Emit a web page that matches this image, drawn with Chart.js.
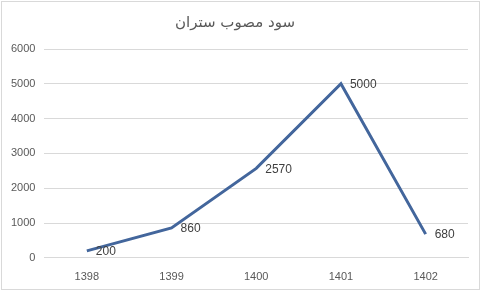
<!DOCTYPE html>
<html>
<head>
<meta charset="utf-8">
<script src="https://cdn.jsdelivr.net/npm/chart.js@4"></script>
<style>
  html, body { margin: 0; padding: 0; background: #fff; }
  #wrap { position: absolute; left: 1px; top: 1px; width: 477px; height: 287px; border: 1px solid #d9d9d9; }
</style>
</head>
<body>
<div id="wrap"><canvas id="chart" width="477" height="287"></canvas></div>
<script>
const years = ['1398', '1399', '1400', '1401', '1402'];
const profit = [200, 860, 2570, 5000, 680];
const chartTitle = 'سود مصوب ستران';

// labels to the right of each point
const pointLabels = {
    id: 'pointLabels',
    afterDatasetsDraw(chart) {
        const ctx = chart.ctx;
        const meta = chart.getDatasetMeta(0);
        ctx.save();
        ctx.font = '12px "Liberation Sans", Arial, sans-serif';
        ctx.fillStyle = '#404040';
        ctx.textAlign = 'left';
        ctx.textBaseline = 'middle';
        meta.data.forEach((pt, i) => {
            ctx.fillText(profit[i], pt.x + 9, pt.y + 1);
        });
        ctx.restore();
    }
};

document.addEventListener('DOMContentLoaded', () => {
    const ctx = document.getElementById('chart').getContext('2d');
    new Chart(ctx, {
        type: 'line',
        data: {
            labels: years,
            datasets: [{
                data: profit,
                borderColor: '#43669c',
                borderWidth: 3,
                pointRadius: 0,
                tension: 0,
                fill: false
            }]
        },
        options: {
            responsive: false,
            animation: false,
            layout: { padding: { left: 0, right: 11, top: 6, bottom: 0 } },
            plugins: {
                legend: { display: false },
                tooltip: { enabled: false },
                title: {
                    display: true,
                    text: chartTitle,
                    color: '#595959',
                    font: { family: '"DejaVu Sans", sans-serif', size: 15, weight: 'normal' },
                    padding: { top: 6, bottom: 17 }
                }
            },
            scales: {
                x: {
                    offset: true,
                    grid: { display: false },
                    border: { color: '#d9d9d9' },
                    ticks: {
                        color: '#595959',
                        font: { family: '"Liberation Sans", Arial, sans-serif', size: 11 },
                        padding: 5
                    }
                },
                y: {
                    min: 0,
                    max: 6000,
                    ticks: {
                        stepSize: 1000,
                        color: '#595959',
                        font: { family: '"Liberation Sans", Arial, sans-serif', size: 11 },
                        padding: 9,
                        callback: v => String(v)
                    },
                    grid: { color: '#d9d9d9', drawTicks: false },
                    border: { display: false }
                }
            }
        },
        plugins: [pointLabels]
    });
});
</script>
</body>
</html>
